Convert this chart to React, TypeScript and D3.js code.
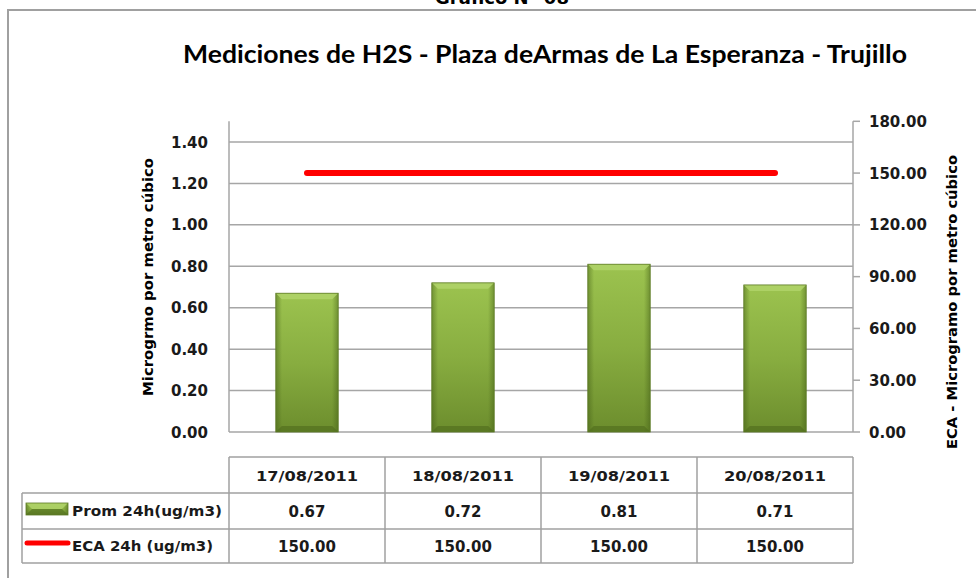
import React from "react";
import * as d3 from "d3";

const categories = ["17/08/2011", "18/08/2011", "19/08/2011", "20/08/2011"];
const promValues = [0.67, 0.72, 0.81, 0.71];
const ecaValues = [150, 150, 150, 150];
const leftTicks = [0, 0.2, 0.4, 0.6, 0.8, 1.0, 1.2, 1.4];
const rightTicks = [0, 30, 60, 90, 120, 150, 180];
const seriesNames = ["Prom 24h(ug/m3)", "ECA 24h (ug/m3)"];
const chartTitle = "Mediciones de H2S - Plaza deArmas de La Esperanza - Trujillo";
const topTitle = "Gráfico N° 08";
const leftAxisTitle = "Microgrmo por metro cúbico";
const rightAxisTitle = "ECA - Microgramo  por metro cúbico";

const W = 976;
const H = 578;
const plotL = 229;
const plotR = 853;
const plotB = 432;
const plotT = 121.3;

const numFont = "'DejaVu Sans', Verdana, sans-serif";
const titleFont = "Lato, 'Open Sans', sans-serif";
const grid = "#a6a6a6";

export default function App() {
  const x = d3
    .scaleBand<string>()
    .domain(categories)
    .range([plotL, plotR])
    .paddingInner(0.6)
    .paddingOuter(0.3);
  const yL = d3.scaleLinear().domain([0, 1.5]).range([plotB, plotT]);
  const yR = d3.scaleLinear().domain([0, 180]).range([plotB, plotT]);
  const step = x.step();
  const bw = x.bandwidth();
  const center = (c: string) => (x(c) as number) + bw / 2;

  const line = d3
    .line<number>()
    .x((_, i) => center(categories[i]))
    .y((d) => yR(d));

  const rowTops = [457, 493, 529, 563];
  const tableLeft = 22;
  const colEdges = [plotL, ...categories.map((c) => center(c) + step / 2)];

  const bevel = 6;

  const bar = (bx: number, by: number, w: number, h: number, key: string) => {
    const b = Math.min(bevel, h / 2, w / 2);
    return (
      <g key={key}>
        <rect x={bx} y={by} width={w} height={h} fill="url(#barV)" />
        <rect x={bx} y={by} width={w} height={h} fill="url(#barH)" />
        <polygon
          points={`${bx},${by} ${bx + w},${by} ${bx + w - b},${by + b} ${bx + b},${by + b}`}
          fill="#b0d46a"
          opacity={0.85}
        />
        <polygon
          points={`${bx},${by + h} ${bx + w},${by + h} ${bx + w - b},${by + h - b} ${bx + b},${by + h - b}`}
          fill="#4e6a1c"
          opacity={0.6}
        />
        <rect x={bx} y={by} width={w} height={h} fill="none" stroke="#5d7a26" strokeWidth={0.8} />
      </g>
    );
  };

  return (
    <svg
      width={W}
      height={H}
      style={{ position: "absolute", left: 0, top: 0, background: "#fff" }}
    >
      <defs>
        <linearGradient id="barV" x1="0" y1="0" x2="0" y2="1">
          <stop offset="0" stopColor="#9cc34f" />
          <stop offset="0.5" stopColor="#88ad40" />
          <stop offset="1" stopColor="#6c8d2d" />
        </linearGradient>
        <linearGradient id="barH" x1="0" y1="0" x2="1" y2="0">
          <stop offset="0" stopColor="#3f5a14" stopOpacity={0.45} />
          <stop offset="0.1" stopColor="#3f5a14" stopOpacity={0} />
          <stop offset="0.9" stopColor="#3f5a14" stopOpacity={0} />
          <stop offset="1" stopColor="#3f5a14" stopOpacity={0.45} />
        </linearGradient>
      </defs>

      <text
        x={502}
        y={4}
        textAnchor="middle"
        fontFamily={numFont}
        fontWeight="bold"
        fontSize={18}
        fill="#000"
      >
        {topTitle}
      </text>

      <rect x={8} y={10} width={1000} height={600} fill="none" stroke="#a0a0a0" strokeWidth={2} />

      <text
        x={545}
        y={63}
        textAnchor="middle"
        fontFamily={titleFont}
        fontWeight="bold"
        fontSize={25}
        textLength={724}
        lengthAdjust="spacingAndGlyphs"
        fill="#000"
      >
        {chartTitle}
      </text>

      {leftTicks.map((t) => (
        <line
          key={"g" + t}
          x1={plotL}
          x2={plotR}
          y1={yL(t)}
          y2={yL(t)}
          stroke={grid}
          strokeWidth={1.5}
        />
      ))}

      <line x1={plotL} x2={plotL} y1={plotT} y2={plotB} stroke={grid} strokeWidth={1.5} />
      <line x1={plotR} x2={plotR} y1={plotT} y2={plotB} stroke={grid} strokeWidth={1.5} />
      {rightTicks.map((t) => (
        <line
          key={"rt" + t}
          x1={plotR}
          x2={plotR + 7}
          y1={yR(t)}
          y2={yR(t)}
          stroke={grid}
          strokeWidth={1.5}
        />
      ))}

      {leftTicks.map((t) => (
        <text
          key={"ll" + t}
          x={208}
          y={yL(t) + 5.5}
          textAnchor="end"
          fontFamily={numFont}
          fontWeight="bold"
          fontSize={15}
          fill="#1a1a1a"
        >
          {t.toFixed(2)}
        </text>
      ))}
      {rightTicks.map((t) => (
        <text
          key={"rl" + t}
          x={869}
          y={yR(t) + 5.5}
          textAnchor="start"
          fontFamily={numFont}
          fontWeight="bold"
          fontSize={15}
          fill="#1a1a1a"
        >
          {t.toFixed(2)}
        </text>
      ))}

      <text
        transform={`translate(153,277) rotate(-90)`}
        textAnchor="middle"
        fontFamily={numFont}
        fontWeight="bold"
        fontSize={14}
        textLength={238}
        lengthAdjust="spacingAndGlyphs"
        fill="#000"
      >
        {leftAxisTitle}
      </text>
      <text
        transform={`translate(957,302) rotate(-90)`}
        textAnchor="middle"
        fontFamily={numFont}
        fontWeight="bold"
        fontSize={14}
        textLength={294}
        lengthAdjust="spacingAndGlyphs"
        fill="#000"
      >
        {rightAxisTitle}
      </text>

      {promValues.map((v, i) => {
        const c = categories[i];
        const top = yL(v);
        return bar(x(c) as number, top, bw, plotB - top, "b" + i);
      })}

      <path
        d={line(ecaValues) || ""}
        fill="none"
        stroke="#ff0000"
        strokeWidth={6}
        strokeLinecap="round"
      />

      <g stroke="#a0a0a0" strokeWidth={1.5} fill="none">
        <line x1={plotL} x2={plotR} y1={rowTops[0]} y2={rowTops[0]} />
        <line x1={tableLeft} x2={plotR} y1={rowTops[1]} y2={rowTops[1]} />
        <line x1={tableLeft} x2={plotR} y1={rowTops[2]} y2={rowTops[2]} />
        <line x1={tableLeft} x2={plotR} y1={rowTops[3]} y2={rowTops[3]} />
        <line x1={tableLeft} x2={tableLeft} y1={rowTops[1]} y2={rowTops[3]} />
        {colEdges.map((e, i) => (
          <line key={"ce" + i} x1={e} x2={e} y1={rowTops[0]} y2={rowTops[3]} />
        ))}
      </g>
      {categories.map((c) => (
        <text
          key={"h" + c}
          x={center(c)}
          y={(rowTops[0] + rowTops[1]) / 2 + 5.5}
          textAnchor="middle"
          fontFamily={numFont}
          fontWeight="bold"
          fontSize={14.5}
          textLength={102}
          lengthAdjust="spacingAndGlyphs"
          fill="#1a1a1a"
        >
          {c}
        </text>
      ))}
      {promValues.map((v, i) => (
        <text
          key={"pv" + i}
          x={center(categories[i])}
          y={(rowTops[1] + rowTops[2]) / 2 + 5.5}
          textAnchor="middle"
          fontFamily={numFont}
          fontWeight="bold"
          fontSize={15}
          fill="#1a1a1a"
        >
          {v.toFixed(2)}
        </text>
      ))}
      {ecaValues.map((v, i) => (
        <text
          key={"ev" + i}
          x={center(categories[i])}
          y={(rowTops[2] + rowTops[3]) / 2 + 5.5}
          textAnchor="middle"
          fontFamily={numFont}
          fontWeight="bold"
          fontSize={15}
          fill="#1a1a1a"
        >
          {v.toFixed(2)}
        </text>
      ))}

      {bar(26, 503, 42, 12, "lk")}
      <line x1={27} x2={68} y1={543} y2={543} stroke="#ff0000" strokeWidth={5} strokeLinecap="round" />
      <text
        x={72}
        y={516}
        fontFamily={numFont}
        fontWeight="bold"
        fontSize={14.5}
        textLength={150}
        lengthAdjust="spacingAndGlyphs"
        fill="#1a1a1a"
      >
        {seriesNames[0]}
      </text>
      <text
        x={72}
        y={551}
        fontFamily={numFont}
        fontWeight="bold"
        fontSize={14.5}
        textLength={141}
        lengthAdjust="spacingAndGlyphs"
        fill="#1a1a1a"
      >
        {seriesNames[1]}
      </text>
    </svg>
  );
}
